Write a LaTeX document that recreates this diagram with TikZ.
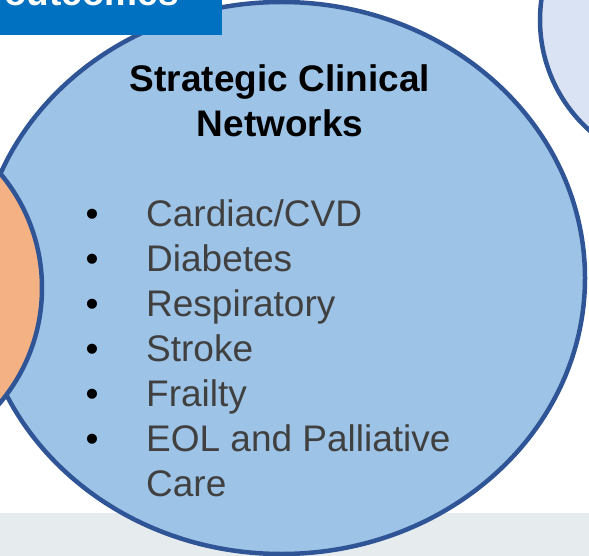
\documentclass[tikz,border=0pt]{standalone}
\usepackage{fontspec}
\setmainfont{Liberation Sans}
\usepackage{xcolor}
\usetikzlibrary{positioning}

\definecolor{netfill}{HTML}{9DC3E6}
\definecolor{netrim}{HTML}{2F5597}
\definecolor{peach}{HTML}{F4B183}
\definecolor{lavender}{HTML}{DAE3F3}
\definecolor{bannerblue}{HTML}{0070C0}
\definecolor{band}{HTML}{E6EBEE}
\definecolor{itemgray}{HTML}{404040}

\begin{document}
\begin{tikzpicture}[x=1pt,y=-1pt,
    rim/.style={draw=netrim,line width=4.5pt},
    title/.style={font=\fontsize{37}{45}\selectfont\bfseries,anchor=base},
    item/.style={font=\fontsize{37}{45}\selectfont,text=itemgray,anchor=base west,inner sep=0pt},
    bullet/.style={font=\fontsize{37}{45}\selectfont,anchor=base,inner sep=0pt}]
    \useasboundingbox (0,0) rectangle (589,556);
    \clip (0,0) rectangle (589,556);
    % background band
    \fill[band] (0,513) rectangle (589,556);
    % circles
    \filldraw[rim,fill=netfill] (281.5,278) ellipse [x radius=303.5pt, y radius=276pt];
    \filldraw[rim,fill=peach] (-136,288) circle [radius=178pt];
    \filldraw[rim,fill=lavender] (688,20) circle [radius=148pt];
    % banner
    \fill[bannerblue] (0,0) rectangle (222,35);
    \node[font=\fontsize{37}{45}\selectfont\bfseries,text=white,anchor=base west,inner sep=0pt] (outcomes) at (4,6) {outcomes};
    % heading
    \node[title] (strategic) at (280,92) {Strategic Clinical};
    \node[title] (networks) at (280,137) {Networks};
    % list
    \foreach \txt [count=\i] in {{Cardiac/CVD},Diabetes,Respiratory,Stroke,Frailty,{EOL and Palliative}} {
        \node[bullet] (dot\i) at (92,{226+45*(\i-1)}) {\textbullet};
        \node[item] (item\i) at (146,{226+45*(\i-1)}) {\txt};
    }
    \node[item] (care) at (146,496) {Care};
\end{tikzpicture}
\end{document}
